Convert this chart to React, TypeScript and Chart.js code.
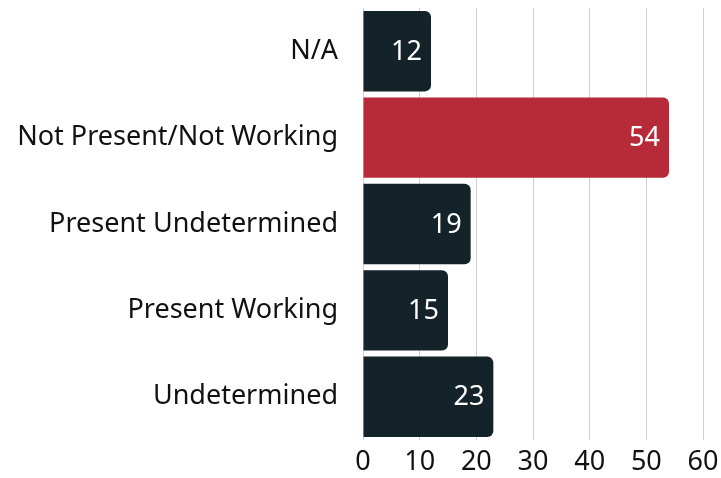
import React, { useEffect, useRef } from "react";
import { Chart, registerables } from "chart.js";

Chart.register(...registerables);

const categories = [
  "N/A",
  "Not Present/Not Working",
  "Present Undetermined",
  "Present Working",
  "Undetermined",
];
const values = [12, 54, 19, 15, 23];
const highlightIndex = 1;
const xTicks = [0, 10, 20, 30, 40, 50, 60];

const DARK = "#132329";
const RED = "#b72a38";
const FONT = "'Noto Sans', sans-serif";

const labelPlugin = {
  id: "barLabels",
  afterDatasetsDraw(chart: any) {
    const { ctx } = chart;
    const meta = chart.getDatasetMeta(0);
    ctx.save();
    ctx.font = `27px ${FONT}`;
    ctx.fillStyle = "#ffffff";
    ctx.textAlign = "right";
    ctx.textBaseline = "middle";
    meta.data.forEach((bar: any, i: number) => {
      ctx.fillText(String(values[i]), bar.x - 9, bar.y + 1);
    });
    ctx.restore();
  },
};

export default function App() {
  const ref = useRef<HTMLCanvasElement>(null);
  useEffect(() => {
    document.body.style.margin = "0";
    const chart = new Chart(ref.current!, {
      type: "bar",
      data: {
        labels: categories,
        datasets: [
          {
            data: values,
            backgroundColor: values.map((_, i) => (i === highlightIndex ? RED : DARK)),
            borderRadius: 6,
            borderSkipped: "start",
            barPercentage: 0.93,
            categoryPercentage: 1,
          },
        ],
      },
      plugins: [labelPlugin],
      options: {
        indexAxis: "y",
        animation: false,
        responsive: false,
        maintainAspectRatio: false,
        layout: { padding: { top: 8, right: 18, bottom: 0, left: 0 } },
        plugins: { legend: { display: false }, tooltip: { enabled: false } },
        scales: {
          x: {
            min: 0,
            max: 60,
            afterBuildTicks: (axis: any) => {
              axis.ticks = xTicks.map((v) => ({ value: v }));
            },
            afterFit: (s: any) => {
              s.height = 38;
              s.paddingLeft = 0;
              s.paddingRight = 0;
            },
            grid: { color: "#d0d0d0", drawTicks: false, lineWidth: 1 },
            border: { display: false },
            ticks: { color: "#111", font: { family: FONT, size: 27 }, padding: 6 },
          },
          y: {
            grid: { display: false, drawTicks: false },
            border: { display: false },
            ticks: { color: "#111", font: { family: FONT, size: 27 }, padding: 25 },
            afterFit: (s: any) => {
              s.paddingTop = 0;
              s.paddingBottom = 0;
              s.width = 363;
            },
          },
        },
      },
    } as any);
    return () => chart.destroy();
  }, []);
  return (
    <div style={{ width: 721, height: 478 }}>
      <canvas ref={ref} width={721} height={478} style={{ display: "block" }} />
    </div>
  );
}
